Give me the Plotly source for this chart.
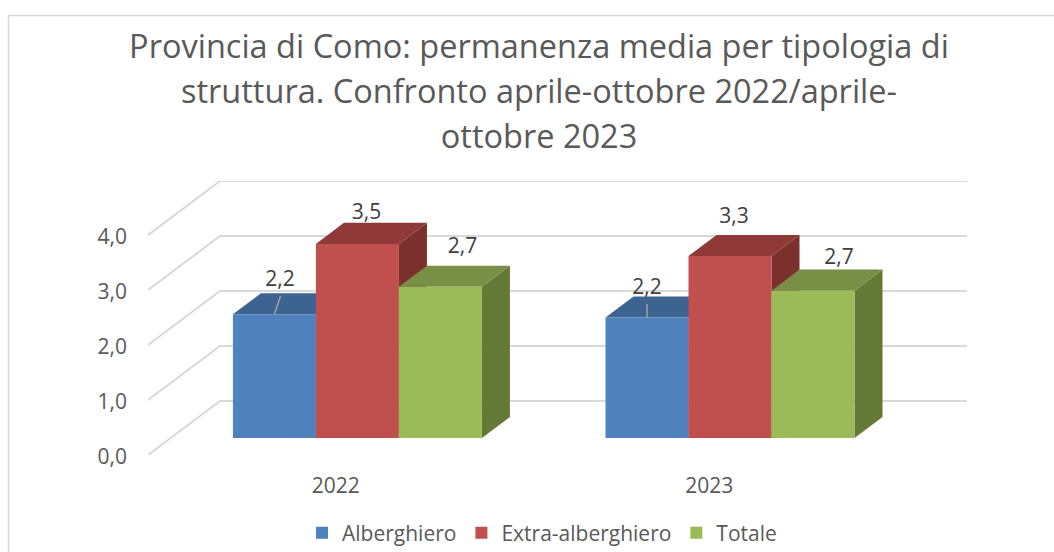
import plotly.graph_objects as go

YEARS = ["2022", "2023"]
SERIES = ["Alberghiero", "Extra-alberghiero", "Totale"]
ALBERGHIERO = [2.25, 2.19]
EXTRA = [3.53, 3.31]
TOTALE = [2.75, 2.68]
LABELS_ALB = ["2,2", "2,2"]
LABELS_EXT = ["3,5", "3,3"]
LABELS_TOT = ["2,7", "2,7"]
Y_TICKS = [0, 1, 2, 3, 4]
Y_TICKTEXT = ["0,0", "1,0", "2,0", "3,0", "4,0"]
TITLE_LINES = ["Provincia di Como: permanenza media per tipologia di",
               "struttura. Confronto aprile-ottobre 2022/aprile-",
               "ottobre 2023"]

VALUES = [ALBERGHIERO, EXTRA, TOTALE]
TEXTS = [LABELS_ALB, LABELS_EXT, LABELS_TOT]
FRONT = ["#4F81BD", "#C0504D", "#9BBB59"]
TOP = ["#3D6491", "#8F3A38", "#788F45"]
SIDE = ["#335479", "#7C302E", "#657936"]

W, H = 1054, 552
PX_L, PX_R, PX_T, PX_B = 148, 967, 181, 455
DEPTH_X = 72 / 373.5   # x units per full floor depth
DEPTH_Y = 54 / 54.9    # y units per full floor depth
XR = [-0.5, 1.5 + DEPTH_X]
YR = [0, 4 + DEPTH_Y]
PX_PER_X = (PX_R - PX_L) / (XR[1] - XR[0])
PX_PER_Y = (PX_B - PX_T) / (YR[1] - YR[0])
D0, D1 = 17 / 54, 38 / 54   # bar front / back plane
BAR_W = 83 / 373.5
PITCH = 372.6 / 373.5       # spacing of the bar groups
GRID = "#D9D9D9"
TITLE = "<br>".join(f'<span style="font-size:32.5px">{t}</span>' for t in TITLE_LINES)


def proj(x, v, d):
    return x + d * DEPTH_X, v + d * DEPTH_Y


def poly(pts, color):
    return go.Scatter(x=[p[0] for p in pts] + [pts[0][0]], y=[p[1] for p in pts] + [pts[0][1]],
                      mode="lines", fill="toself", fillcolor=color, line=dict(width=0),
                      showlegend=False, hoverinfo="skip")


fig = go.Figure()

# wall gridlines
for v in Y_TICKS:
    a, b, c = proj(-0.5, v, 0), proj(-0.5, v, 1), proj(1.5, v, 1)
    fig.add_trace(go.Scatter(x=[a[0], b[0], c[0]], y=[a[1], b[1], c[1]], mode="lines",
                             line=dict(color=GRID, width=2), showlegend=False, hoverinfo="skip"))

# side and top faces, back to front
for s in range(3):
    for i in range(2):
        left = i * PITCH + (s - 1.5) * BAR_W
        right = left + BAR_W
        v = VALUES[s][i]
        fig.add_trace(poly([proj(right, 0, D0), proj(right, 0, D1), proj(right, v, D1), proj(right, v, D0)], SIDE[s]))
        fig.add_trace(poly([proj(left, v, D0), proj(right, v, D0), proj(right, v, D1), proj(left, v, D1)], TOP[s]))

# front faces
for s in range(3):
    xs = [i * PITCH + (s - 1) * BAR_W + D0 * DEPTH_X for i in range(2)]
    fig.add_trace(go.Bar(x=xs, y=VALUES[s], base=D0 * DEPTH_Y, width=BAR_W, name=SERIES[s],
                         marker=dict(color=FRONT[s], line=dict(width=0)),
                         xaxis="x2", yaxis="y2", hoverinfo="skip"))

# data labels: pixel nudges from bar's top-front centre
NUDGE = {(0, 0): (5.5, 34), (0, 1): (0, 29), (1, 0): (9, 30), (1, 1): (4, 38),
         (2, 0): (22, 39), (2, 1): (26, 32)}
for (s, i), (nx, ny) in NUDGE.items():
    cx = i * PITCH + (s - 1) * BAR_W
    px, py = proj(cx, VALUES[s][i], D0)
    fig.add_trace(go.Scatter(x=[px + nx / PX_PER_X], y=[py + ny / PX_PER_Y], mode="text",
                             text=[TEXTS[s][i]], textposition="middle center",
                             textfont=dict(family="Open Sans", size=21, color="#404040"),
                             showlegend=False, hoverinfo="skip", xaxis="x2", yaxis="y2"))

# leader lines of the blue labels
for i, (nx, ny) in enumerate([(6, 18), (0, 13.5)]):
    px, py = proj(i * PITCH - BAR_W, ALBERGHIERO[i], D0)
    fig.add_trace(go.Scatter(x=[px, px + nx / PX_PER_X], y=[py, py + ny / PX_PER_Y], mode="lines",
                             line=dict(color="#A6A6A6", width=1.4), showlegend=False,
                             hoverinfo="skip", xaxis="x2", yaxis="y2"))

dom_x = [PX_L / W, PX_R / W]
dom_y = [(H - PX_B) / H, (H - PX_T) / H]
fig.update_layout(
    width=W, height=H, autosize=False,
    margin=dict(l=0, r=0, t=0, b=0, autoexpand=False),
    paper_bgcolor="white", plot_bgcolor="rgba(0,0,0,0)",
    barmode="overlay",
    font=dict(family="Open Sans", color="#595959", size=21),
    title=dict(text=TITLE, x=539 / W, xanchor="center", y=1 - 58 / H, yanchor="top", yref="container",
               font=dict(family="Open Sans", size=34.6, color="#595959")),
    xaxis=dict(domain=dom_x, range=XR, tickmode="array", tickvals=[0, 1], ticktext=YEARS,
               showgrid=False, zeroline=False, showline=False, ticks="", ticklabelstandoff=16,
               ticklabelshift=1, tickfont=dict(size=21)),
    yaxis=dict(domain=dom_y, range=YR, tickmode="array", tickvals=Y_TICKS, ticktext=Y_TICKTEXT,
               showgrid=False, zeroline=False, showline=False, ticks="", ticklabelstandoff=20,
               ticklabelshift=2, tickfont=dict(size=21)),
    xaxis2=dict(domain=dom_x, range=XR, overlaying="x", visible=False, matches="x"),
    yaxis2=dict(domain=dom_y, range=YR, overlaying="y", visible=False, matches="y"),
    legend=dict(orientation="h", x=542 / W, xanchor="center", y=1 - 533 / H, yanchor="middle",
                font=dict(family="Open Sans", size=21, color="#595959"), bgcolor="rgba(0,0,0,0)"),
    shapes=[dict(type="path", xref="paper", yref="paper",
                 path=f"M {8.5 / W},0 L {8.5 / W},{1 - 15.5 / H} L 1,{1 - 15.5 / H}",
                 line=dict(color="#D9D9D9", width=1.5))],
)
fig.write_html("out.html", config={"displayModeBar": False},
               post_script="document.body.style.margin='0';document.body.style.overflow='hidden';")
